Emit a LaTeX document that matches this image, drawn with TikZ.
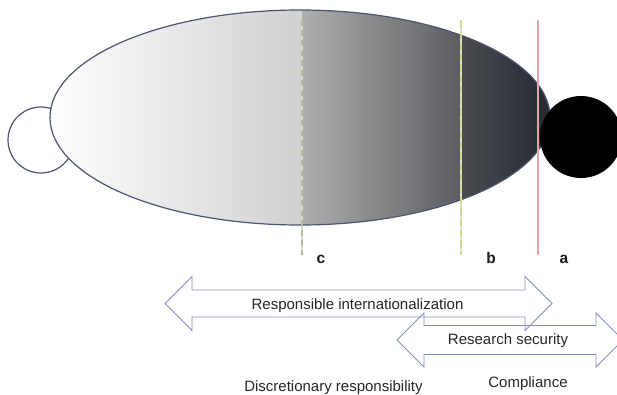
\documentclass[tikz,border=0pt]{standalone}
\usepackage{fontspec}
\setmainfont{Liberation Sans}
\usetikzlibrary{positioning,calc}
\definecolor{rimline}{HTML}{4B5573}
\definecolor{bandline}{HTML}{8291BA}
\definecolor{shadeA}{RGB}{255,255,255}
\definecolor{shadeB}{RGB}{208,208,208}
\definecolor{shadeC}{RGB}{174,174,175}
\definecolor{shadeD}{RGB}{138,138,140}
\definecolor{shadeE}{RGB}{92,93,97}
\definecolor{shadeF}{RGB}{74,76,81}
\definecolor{shadeG}{RGB}{36,40,48}
\definecolor{cutc}{HTML}{B4BCA4}
\definecolor{cutb}{HTML}{D6D68C}
\definecolor{cuta}{HTML}{E2A4A4}
\tikzset{rim/.style={draw=rimline, line width=1.2pt},
  band/.style={draw=bandline, line width=0.9pt},
  bandtext/.style={font=\fontsize{15}{18}\selectfont, text=black!85, anchor=base, inner sep=0pt},
  cuttext/.style={font=\fontsize{15.5}{18}\selectfont\bfseries, text=black!90, anchor=base, inner sep=0pt}}
\begin{document}
\begin{tikzpicture}[x=1pt,y=-1pt]
\useasboundingbox (0,0) rectangle (617,395);
\draw[rim, fill=white] (41,140) circle [radius=33pt];
\begin{scope}
\clip (300,117.5) ellipse [x radius=250pt, y radius=107.5pt];
\shade[left color=shadeA, right color=shadeB] (48,5) rectangle (302,230);
\shade[left color=shadeC, middle color=shadeD, right color=shadeE] (302,5) rectangle (461,230);
\shade[left color=shadeF, right color=shadeG] (461,5) rectangle (552,230);
\end{scope}
\draw[rim] (300,117.5) ellipse [x radius=250pt, y radius=107.5pt];
\draw[line width=2.6pt, gray!30] (302,20) -- (302,255);
\draw[line width=2pt, cutc, dash pattern=on 6pt off 4pt] (302,20) -- (302,255);
\draw[line width=2.8pt, gray!25] (461,20) -- (461,255);
\draw[line width=2pt, cutb, dash pattern=on 8pt off 3pt] (461,20) -- (461,255);
\fill[black] (581,137) circle [radius=41pt];
\draw[line width=2.4pt, cuta] (538,20) -- (538,255);
\foreach \x/\t in {321/c,491/b,564/a}
  \node[cuttext] (cut\t) at (\x,263) {\t};
\foreach \xl/\xr/\yc/\hw in {165/552/303.5/13.5, 397/623/340/14.5}
  \draw[band] (\xl,\yc) -- (\xl+27,\yc-27) -- (\xl+27,\yc-\hw) -- (\xr-27,\yc-\hw) -- (\xr-27,\yc-27) -- (\xr,\yc)
    -- (\xr-27,\yc+27) -- (\xr-27,\yc+\hw) -- (\xl+27,\yc+\hw) -- (\xl+27,\yc+27) -- cycle;
\node[bandtext] (respint) at (357.5,309) {Responsible internationalization};
\node[bandtext] (ressec) at (508,344) {Research security};
\node[bandtext] (discr) at (333.5,391) {Discretionary responsibility};
\node[bandtext] (compl) at (528,387.7) {Compliance};
\end{tikzpicture}
\end{document}
